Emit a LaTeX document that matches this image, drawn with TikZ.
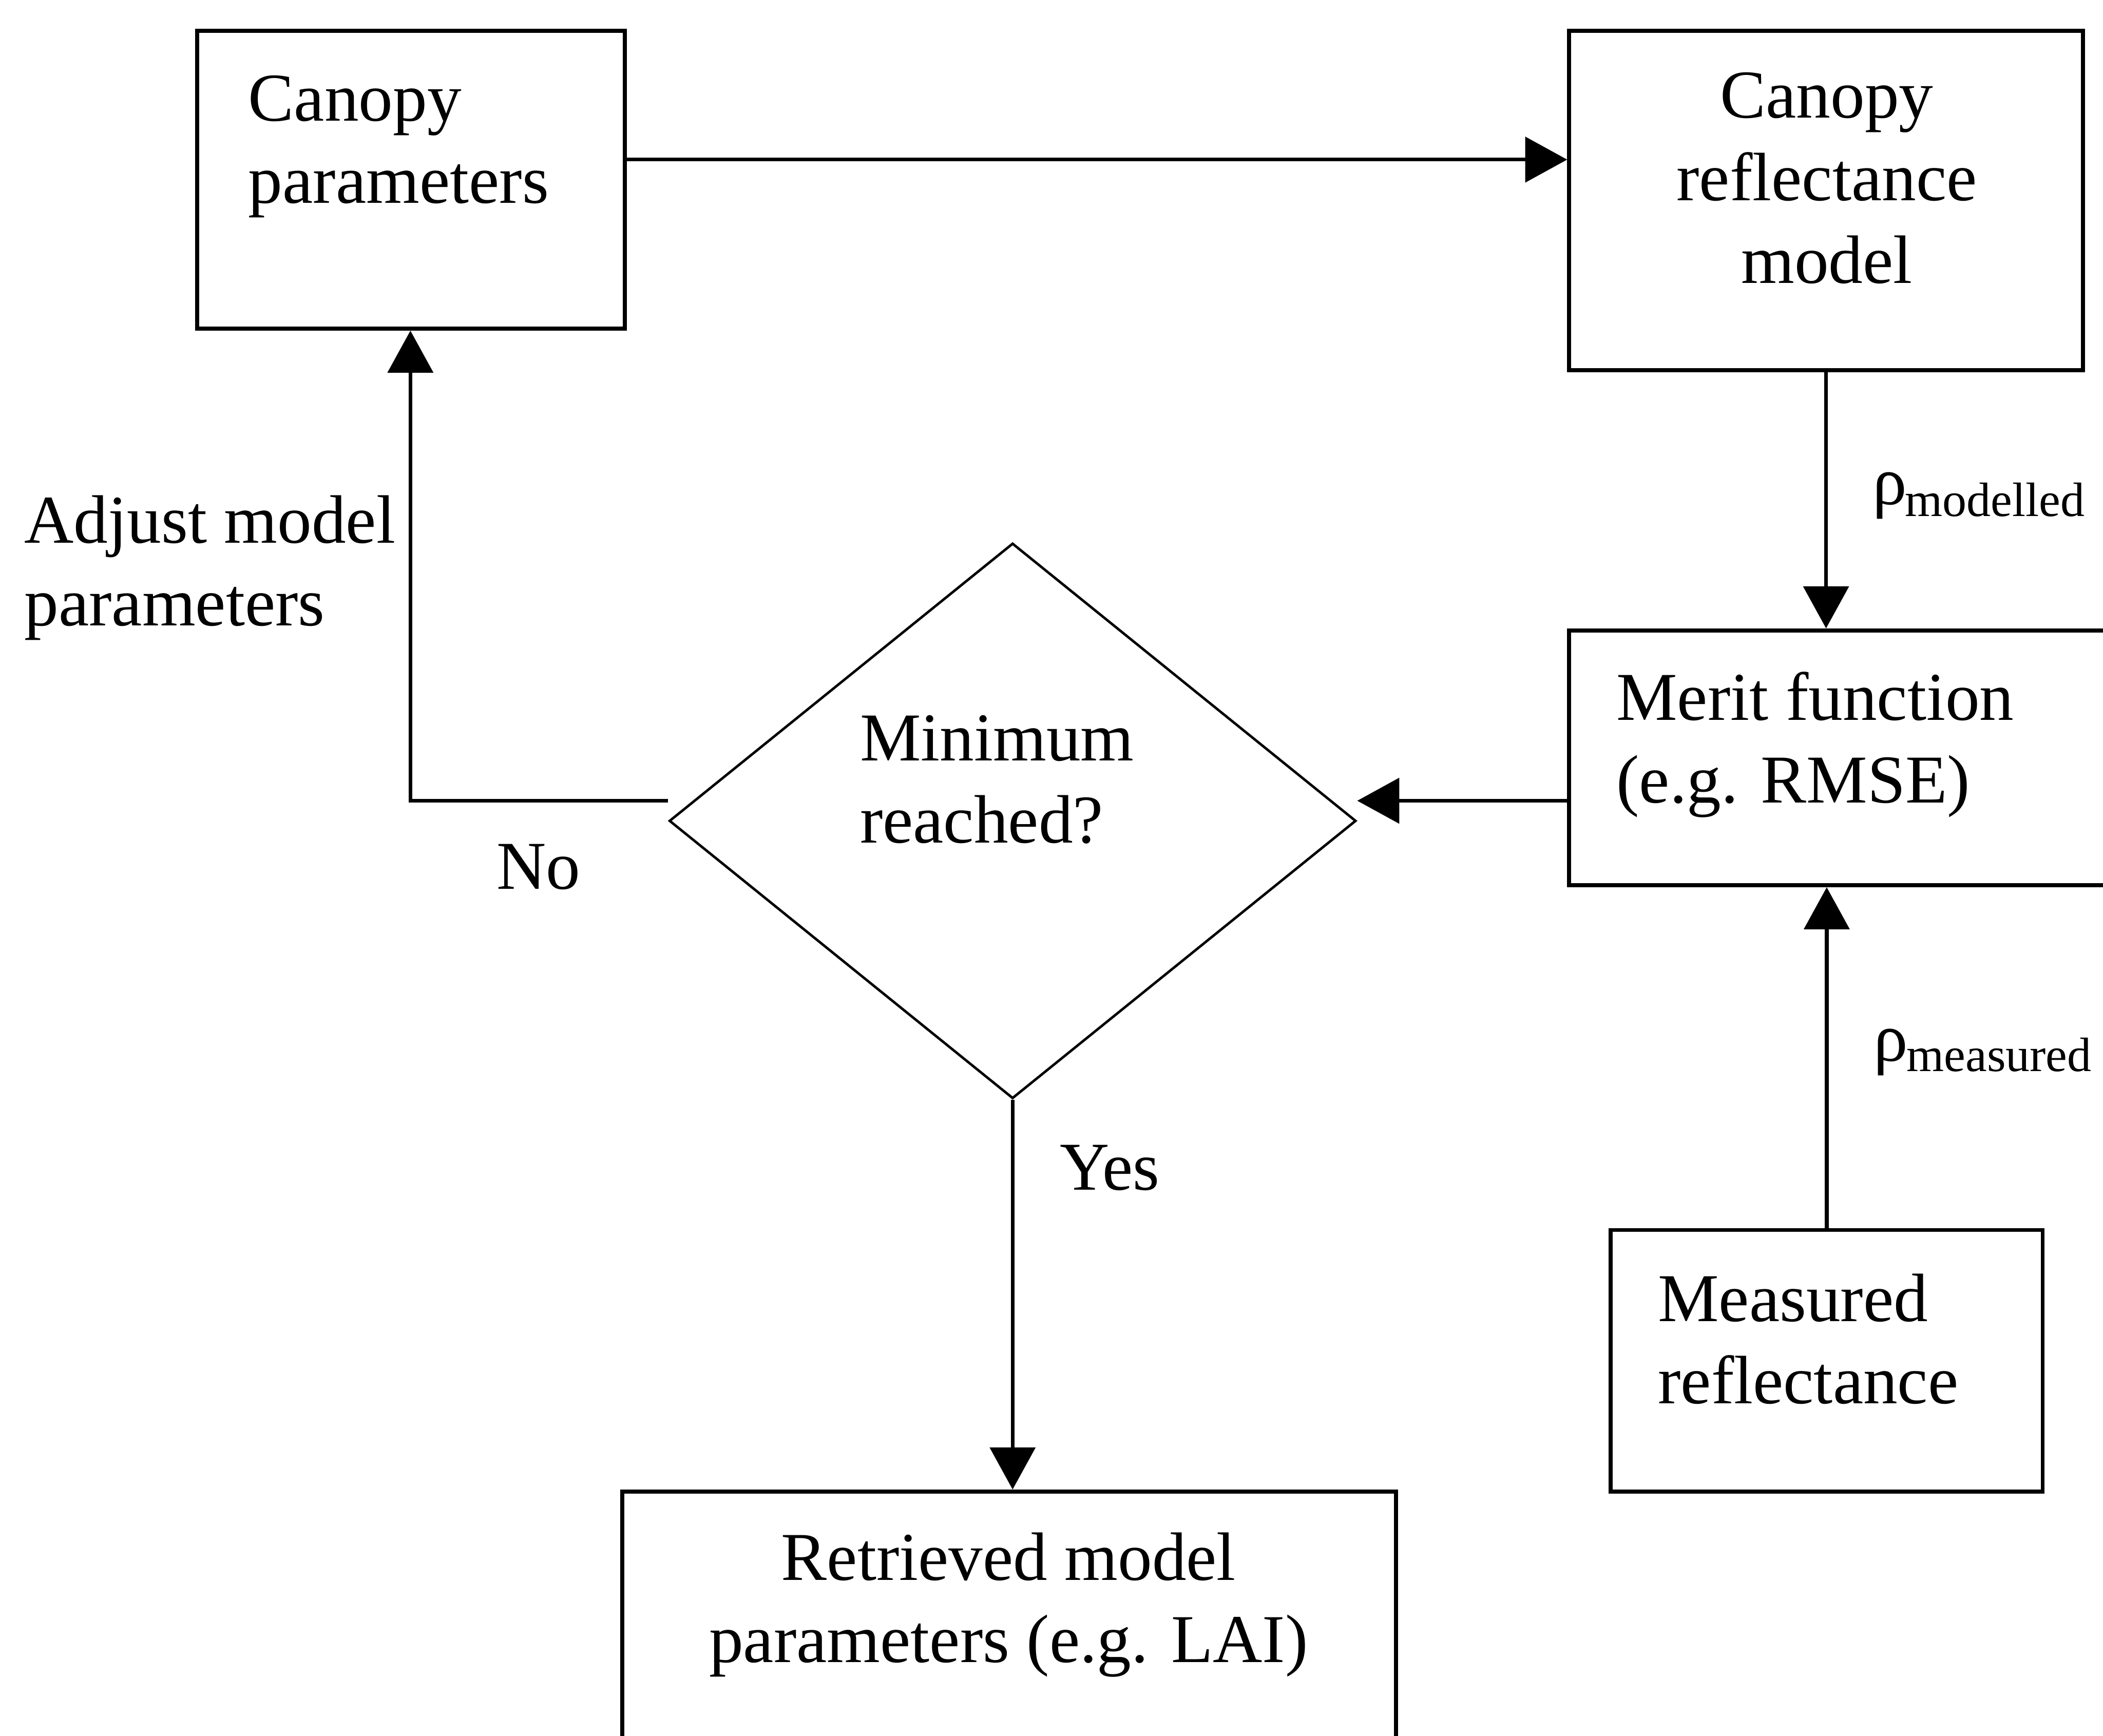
\documentclass[tikz,border=0pt]{standalone}
\usepackage{fontspec}
\setmainfont{Liberation Serif}
\usetikzlibrary{arrows.meta,fit,shapes.geometric}
\newcommand\txtlines[2]{\begin{tabular}[t]{@{}#1@{}}#2\end{tabular}}
\begin{document}
\begin{tikzpicture}[x=0.030293cm,y=-0.030293cm,
  box/.style={draw, line width=2.6pt, inner sep=0pt, rectangle},
  dec/.style={draw, diamond, line width=1.6pt, inner sep=0pt, minimum width=441.3pt, minimum height=356.8pt},
  lbl/.style={inner sep=0pt, font=\fontsize{44}{53}\selectfont},
  rholbl/.style={inner sep=0pt, anchor=base west},
  conn/.style={line width=2.4pt},
  arr/.style={conn, -{Triangle[length=27pt,width=29pt]}},
]
\useasboundingbox (0,0) rectangle (1568,1294);
\fill[white] (0,0) rectangle (1568,1294);
\clip (0,0) rectangle (1568,1294);

% boxes
\node[box, fit={(147,23) (466,245)}] (cp) {};
\node[box, fit={(1170,23) (1553,276)}] (crm) {};
\node[box, fit={(1170,470) (1600,660)}] (mf) {};
\node[box, fit={(1201,917) (1523,1112)}] (mr) {};
\node[box, fit={(464,1112) (1041,1340)}] (rp) {};
\node[dec] (mn) at (755,612) {};

% texts
\node[lbl, anchor=base west] (tcp) at (185,90) {\txtlines{l}{Canopy\\parameters}};
\node[lbl, anchor=base] (tcrm) at (1362,88) {\txtlines{c}{Canopy\\reflectance\\model}};
\node[lbl, anchor=base west] (tmf) at (1205,537) {\txtlines{l}{Merit function\\(e.g. RMSE)}};
\node[lbl, anchor=base west] (tmr) at (1236,985) {\txtlines{l}{Measured\\reflectance}};
\node[lbl, anchor=base] (trp) at (752,1178) {\txtlines{c}{Retrieved model\\parameters (e.g. LAI)}};
\node[lbl, anchor=base west] (tmn) at (641,567) {\txtlines{l}{Minimum\\reached?}};
\node[lbl, anchor=base west] (tadj) at (18,405) {\txtlines{l}{Adjust model\\parameters}};
\node[lbl, anchor=base west] (tno) at (370,663) {No};
\node[lbl, anchor=base west] (tyes) at (790,887) {Yes};

\node[rholbl] (rho1) at (1396,376) {\fontsize{44}{44}\selectfont ρ\kern-1pt\raisebox{-7.8pt}{\fontsize{31}{31}\selectfont modelled}};
\node[rholbl] (rho2) at (1397,791) {\fontsize{44}{44}\selectfont ρ\kern-1pt\raisebox{-6.8pt}{\fontsize{31}{31}\selectfont measured}};

% connectors
\coordinate (y1) at (0,119);
\coordinate (y2) at (0,597);
\coordinate (xno) at (306,0);
\draw[arr] (cp.east |- y1) -- (crm.west |- y1);
\draw[arr] (crm.south) -- (crm.south |- mf.north);
\draw[arr] (mf.west |- y2) -- (mn.east |- y2);
\draw[arr] (mr.north) -- (mr.north |- mf.south);
\draw[arr] (mn.west |- y2) -- (xno |- y2) -- (xno |- cp.south);
\draw[arr] (mn.south) -- (mn.south |- rp.north);
\end{tikzpicture}
\end{document}
